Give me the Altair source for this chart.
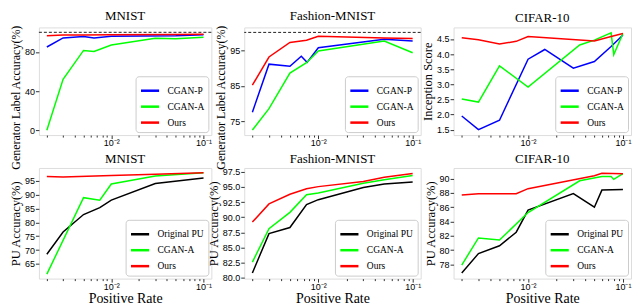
import altair as alt
import pandas as pd

SERIF = "Liberation Serif"

# x ticks (log axis, minor + major)
XTICKS = [0.002, 0.003, 0.004, 0.005, 0.006, 0.007, 0.008, 0.009, 0.01,
          0.02, 0.03, 0.04, 0.05, 0.06, 0.07, 0.08, 0.09, 0.1]
XDOMAIN = [0.00164, 0.1216]

# ---- Top row: generator label accuracy / inception score ----
tm_p_x = [0.002, 0.003, 0.005, 0.0065, 0.01, 0.05, 0.1]
tm_p_y = [85.0, 94.3, 95.8, 94.3, 96.0, 96.5, 97.5]
tm_a_x = [0.002, 0.003, 0.005, 0.0065, 0.01, 0.03, 0.05, 0.1]
tm_a_y = [0.0, 52.0, 81.5, 80.5, 87.0, 94.0, 93.5, 95.0]
tm_o_x = [0.002, 0.003, 0.005, 0.01, 0.05, 0.1]
tm_o_y = [96.5, 97.2, 97.3, 97.5, 97.8, 98.0]

tf_p_x = [0.002, 0.003, 0.005, 0.0066, 0.0076, 0.01, 0.05, 0.1]
tf_p_y = [77.6, 91.1, 90.5, 93.3, 91.6, 95.7, 98.1, 97.6]
tf_a_x = [0.002, 0.003, 0.005, 0.0075, 0.01, 0.05, 0.1]
tf_a_y = [72.6, 78.6, 88.6, 91.5, 94.8, 97.6, 94.3]
tf_o_x = [0.002, 0.003, 0.005, 0.0075, 0.01, 0.05, 0.1]
tf_o_y = [85.2, 93.1, 97.2, 97.8, 98.9, 98.4, 98.3]

tc_p_x = [0.002, 0.003, 0.005, 0.01, 0.015, 0.03, 0.05, 0.075, 0.1]
tc_p_y = [1.95, 1.50, 1.81, 3.83, 4.15, 3.53, 3.75, 4.25, 4.63]
tc_a_x = [0.002, 0.003, 0.005, 0.01, 0.035, 0.05, 0.075, 0.08, 0.1]
tc_a_y = [2.51, 2.41, 3.61, 2.91, 4.30, 4.46, 4.70, 3.98, 4.68]
tc_o_x = [0.002, 0.003, 0.005, 0.0075, 0.01, 0.05, 0.075, 0.1]
tc_o_y = [4.54, 4.47, 4.33, 4.42, 4.58, 4.43, 4.58, 4.68]

# ---- Bottom row: PU accuracy ----
bm_b_x = [0.002, 0.003, 0.005, 0.0075, 0.01, 0.03, 0.1]
bm_b_y = [68.5, 76.5, 82.8, 85.3, 88.0, 94.0, 96.0]
bm_a_x = [0.002, 0.005, 0.0075, 0.01, 0.03, 0.1]
bm_a_y = [61.3, 88.9, 88.0, 93.8, 96.7, 97.9]
bm_o_x = [0.002, 0.003, 0.01, 0.03, 0.1]
bm_o_y = [96.5, 96.3, 96.9, 97.3, 97.9]

bf_b_x = [0.002, 0.003, 0.005, 0.0075, 0.01, 0.03, 0.05, 0.1]
bf_b_y = [80.8, 87.3, 88.3, 92.1, 92.9, 94.9, 95.5, 95.8]
bf_a_x = [0.002, 0.003, 0.005, 0.0075, 0.01, 0.03, 0.05, 0.1]
bf_a_y = [82.6, 88.1, 90.8, 93.7, 94.0, 95.6, 96.2, 96.9]
bf_o_x = [0.002, 0.003, 0.005, 0.0075, 0.01, 0.03, 0.05, 0.1]
bf_o_y = [89.2, 92.2, 93.8, 94.7, 95.05, 95.9, 96.6, 97.2]

bc_b_x = [0.002, 0.003, 0.005, 0.0075, 0.01, 0.03, 0.05, 0.06, 0.1]
bc_b_y = [76.8, 79.5, 80.6, 82.5, 85.6, 87.9, 86.0, 88.4, 88.5]
bc_a_x = [0.002, 0.003, 0.005, 0.01, 0.035, 0.06, 0.075, 0.08, 0.1]
bc_a_y = [77.9, 81.7, 81.4, 85.25, 89.7, 90.3, 90.3, 89.9, 90.7]
bc_o_x = [0.002, 0.003, 0.005, 0.0075, 0.01, 0.05, 0.06, 0.1]
bc_o_y = [87.7, 87.9, 87.9, 87.9, 88.6, 90.4, 90.75, 90.7]

TOP_SERIES = ["CGAN-P", "CGAN-A", "Ours"]
TOP_COLORS = ["#0000ff", "#00ff00", "#ff0000"]
BOT_SERIES = ["Original PU", "CGAN-A", "Ours"]
BOT_COLORS = ["#000000", "#00ff00", "#ff0000"]


def frame(series, xs, ys):
    rows = []
    for s, xv, yv in zip(series, xs, ys):
        for a, b in zip(xv, yv):
            rows.append({"x": a, "y": b, "series": s})
    return pd.DataFrame(rows)


MAJOR = "abs(datum.value-0.01)<1e-9 || abs(datum.value-0.1)<1e-9"


def panel(df, title, ytitle, ydom, yticks, yfmt, series, colors, w, h,
          xtitle=None, dash=False, ytitle_shift=0, ytitle_size=12.5):
    xaxis = dict(values=XTICKS, grid=False, domain=False,
                 labelExpr="abs(datum.value-0.01)<1e-9 ? '10⁻²' : (abs(datum.value-0.1)<1e-9 ? '10⁻¹' : '')",
                 labelOverlap=False, labelFontSize=9, labelPadding=0,
                 tickSize={"condition": {"test": MAJOR, "value": 3.5}, "value": 2},
                 tickColor="#333")
    if xtitle:
        xaxis.update(title=xtitle, titleFontSize=14, titlePadding=0,
                     titleFont=SERIF, titleFontWeight="normal")
    else:
        xaxis.update(title=None)
    yaxis = dict(values=yticks, format=yfmt, grid=False, domain=False,
                 title=ytitle, titleFontSize=ytitle_size, titlePadding=2,
                 titleFont=SERIF, titleFontWeight="normal",
                 labelFontSize=9, labelPadding=1, tickSize=3.5, tickColor="#333")
    if ytitle_shift:
        yaxis.update(titleY=h / 2 + ytitle_shift)
    lines = alt.Chart(df).mark_line(strokeWidth=1.5, clip=True).encode(
        x=alt.X("x:Q", scale=alt.Scale(type="log", domain=XDOMAIN, nice=False),
                axis=alt.Axis(**xaxis)),
        y=alt.Y("y:Q", scale=alt.Scale(domain=ydom, nice=False, zero=False),
                axis=alt.Axis(**yaxis)),
        color=alt.Color("series:N", sort=series,
                        scale=alt.Scale(domain=series, range=colors),
                        legend=alt.Legend(title=None, orient="bottom-right", offset=3,
                                          fillColor="white", strokeColor="#cccccc",
                                          cornerRadius=3, padding=4,
                                          symbolType="stroke", symbolSize=330,
                                          symbolStrokeWidth=2.5, rowPadding=-3,
                                          labelFont=SERIF, labelFontSize=9.5,
                                          labelOffset=7)),
    )
    layers = []
    if dash:
        rule = alt.Chart(pd.DataFrame({"y": [100]})).mark_rule(
            strokeDash=[3, 2], color="#222", strokeWidth=1).encode(y="y:Q")
        layers.append(rule)
    layers.append(lines)
    return alt.layer(*layers).properties(
        width=w, height=h,
        title=alt.TitleParams(title, font=SERIF, fontSize=13, fontWeight="normal",
                              offset=2, color="black", frame="group"))


W = [173, 177, 178]
HT, HB = 108, 111

p1 = panel(frame(TOP_SERIES, [tm_p_x, tm_a_x, tm_o_x], [tm_p_y, tm_a_y, tm_o_y]),
           "MNIST", "Generator Label Accuracy(%)", [-5, 105], [0, 20, 40, 60, 80, 100], "d",
           TOP_SERIES, TOP_COLORS, W[0], HT, dash=True, ytitle_shift=16, ytitle_size=12)
p2 = panel(frame(TOP_SERIES, [tf_p_x, tf_a_x, tf_o_x], [tf_p_y, tf_a_y, tf_o_y]),
           "Fashion-MNIST", "Generator Label Accuracy(%)", [71.2, 101.4], [75, 80, 85, 90, 95, 100], "d",
           TOP_SERIES, TOP_COLORS, W[1], HT, dash=True, ytitle_shift=16, ytitle_size=12)
p3 = panel(frame(TOP_SERIES, [tc_p_x, tc_a_x, tc_o_x], [tc_p_y, tc_a_y, tc_o_y]),
           "CIFAR-10", "Inception Score", [1.32, 4.88], [1.5, 2.0, 2.5, 3.0, 3.5, 4.0, 4.5], ".1f",
           TOP_SERIES, TOP_COLORS, W[2], HT)
p4 = panel(frame(BOT_SERIES, [bm_b_x, bm_a_x, bm_o_x], [bm_b_y, bm_a_y, bm_o_y]),
           "MNIST", "PU Accuracy(%)", [59.7, 99.6], [65, 70, 75, 80, 85, 90, 95], "d",
           BOT_SERIES, BOT_COLORS, W[0], HB, xtitle="Positive Rate")
p5 = panel(frame(BOT_SERIES, [bf_b_x, bf_a_x, bf_o_x], [bf_b_y, bf_a_y, bf_o_y]),
           "Fashion-MNIST", "PU Accuracy(%)", [79.87, 98.13],
           [80.0, 82.5, 85.0, 87.5, 90.0, 92.5, 95.0, 97.5], ".1f",
           BOT_SERIES, BOT_COLORS, W[1], HB, xtitle="Positive Rate")
p6 = panel(frame(BOT_SERIES, [bc_b_x, bc_a_x, bc_o_x], [bc_b_y, bc_a_y, bc_o_y]),
           "CIFAR-10", "PU Accuracy(%)", [76.0, 91.5], [78, 80, 82, 84, 86, 88, 90], "d",
           BOT_SERIES, BOT_COLORS, W[2], HB, xtitle="Positive Rate")

chart = alt.concat(p1, p2, p3, p4, p5, p6, columns=3, align="each", bounds="flush",
                   spacing={"row": 33, "column": 33}).resolve_scale(
    x="independent", y="independent", color="independent").resolve_legend(
    color="independent").properties(padding=0).configure_view(
    stroke="#333", strokeWidth=1).configure_axis(
    labelFont=SERIF, titleFont=SERIF, labelColor="black", titleColor="black").configure(
    background="white")

chart.save("out.html", embed_options={"renderer": "svg", "actions": False})
